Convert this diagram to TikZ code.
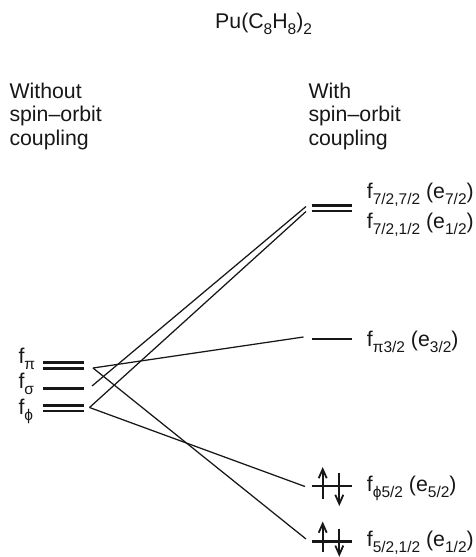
\documentclass[tikz,border=0pt]{standalone}
\usepackage{fontspec}
\setmainfont{Liberation Sans}
\usetikzlibrary{arrows.meta}
\definecolor{ink}{RGB}{25,22,23}
\newcommand\lo[1]{\raisebox{-6pt}{\fontsize{15.5}{15.5}\selectfont #1}}
\begin{document}
\begin{tikzpicture}[x=1pt,y=-1pt]
\useasboundingbox (0,0) rectangle (475,557);
\tikzset{
  txt/.style={font=\fontsize{21.3}{23.5}\selectfont, text=ink, inner sep=0pt, anchor=base west},
  lvl/.style={draw=ink, line width=2.4pt},
  conn/.style={draw=ink, line width=1.25pt},
  spinarrow/.style={draw=ink, line width=1.8pt, -{Straight Barb[length=9pt,width=8pt]}}
}
% title and headers
\node[txt] (title) at (215,28) {Pu(C\lo{8}H\lo{8})\lo{2}};
\node[txt, anchor=north west, align=left] (without) at (9.3,82.5) {Without\\spin–orbit\\coupling};
\node[txt, anchor=north west, align=left] (with) at (308.3,82.5) {With\\spin–orbit\\coupling};
% left levels
\draw[lvl] (43,362.5) coordinate (pia) -- (83.5,362.5) coordinate (pib);
\draw[lvl] (43,368.5) coordinate (pic) -- (83.5,368.5) coordinate (pid);
\draw[lvl] (43,388.5) coordinate (siga) -- (83.5,388.5) coordinate (sigb);
\draw[lvl] (43,405.5) coordinate (phia) -- (83.5,405.5) coordinate (phib);
\draw[lvl] (43,411) coordinate (phic) -- (83.5,411) coordinate (phid);
% right levels
\draw[lvl] (311.7,205.5) coordinate (t1a) -- (351.5,205.5) coordinate (t1b);
\draw[lvl] (311.7,211) coordinate (t2a) -- (351.5,211) coordinate (t2b);
\draw[lvl] (311.7,339) coordinate (p32a) -- (351.5,339) coordinate (p32b);
\draw[lvl] (311.7,486) coordinate (f52a) -- (351.5,486) coordinate (f52b);
\draw[lvl] (311.7,541.5) coordinate (l52a) -- (351.5,541.5) coordinate (l52b);
% connector ends
\coordinate (Lpi) at (93,368);
\coordinate (Lsig) at (92,386);
\coordinate (Lphi) at (89.5,407.5);
\coordinate (Rtop1) at (306,206.5);
\coordinate (Rtop2) at (306,211.5);
\coordinate (Rpi) at (303.5,337);
\coordinate (Rphi) at (305,486.5);
\coordinate (Rlow) at (306,539);
\draw[conn] (Lpi) -- (Rpi);
\draw[conn] (Lpi) -- (Rlow);
\draw[conn] (Lsig) -- (Rtop1);
\draw[conn] (Lphi) -- (Rtop2);
\draw[conn] (Lphi) -- (Rphi);
% spin arrows
\coordinate (u1s) at (322.7,498.5); \coordinate (u1e) at (322.7,467);
\coordinate (d1s) at (339.3,473); \coordinate (d1e) at (339.3,506);
\coordinate (u2s) at (322.7,552); \coordinate (u2e) at (322.7,521.5);
\coordinate (d2s) at (339.3,528.5); \coordinate (d2e) at (339.3,556.8);
\draw[spinarrow] (u1s) -- (u1e);
\draw[spinarrow] (d1s) -- (d1e);
\draw[spinarrow] (u2s) -- (u2e);
\draw[spinarrow] (d2s) -- (d2e);
% right labels
\node[txt] (lt1) at (366.7,198) {f\lo{7/2,7/2} (e\lo{7/2})};
\node[txt] (lt2) at (366.7,228) {f\lo{7/2,1/2} (e\lo{1/2})};
\node[txt] (lp32) at (366.7,346) {f\lo{π3/2} (e\lo{3/2})};
\node[txt] (lf52) at (366.7,491.7) {f\lo{ϕ5/2} (e\lo{5/2})};
\node[txt] (ll52) at (366.7,546.7) {f\lo{5/2,1/2} (e\lo{1/2})};
% left labels
\node[txt] (lpi) at (18.3,363) {f\lo{π}};
\node[txt] (lsig) at (18.3,388) {f\lo{σ}};
\node[txt] (lphi) at (18.3,414) {f\lo{ϕ}};
\end{tikzpicture}
\end{document}
